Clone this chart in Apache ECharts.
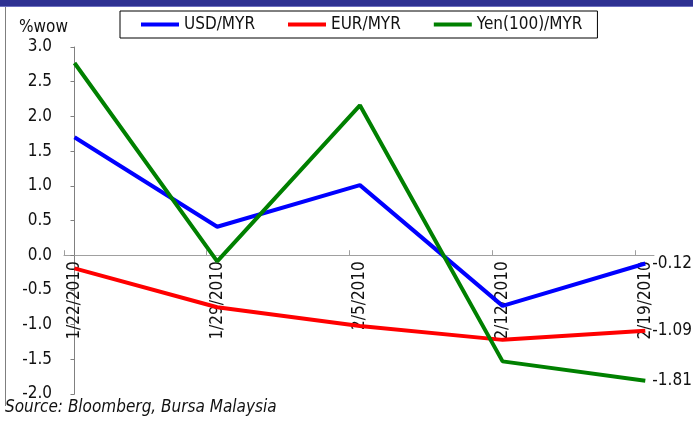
<!DOCTYPE html>
<html>
<head>
<meta charset="utf-8">
<script src="https://cdn.jsdelivr.net/npm/echarts@6/dist/echarts.min.js"></script>
<style>
  html, body { margin: 0; padding: 0; background: #fff; }
  #chart { width: 693px; height: 423px; }
</style>
</head>
<body>
<div id="chart"></div>
<script>
// Weekly change (%wow) of the ringgit against three currencies
const weeks = ['1/22/2010', '1/29/2010', '2/5/2010', '2/12/2010', '2/19/2010'];
const usdMyr = [1.70, 0.41, 1.01, -0.73, -0.12];
const eurMyr = [-0.19, -0.75, -1.02, -1.22, -1.09];
const yenMyr = [2.77, -0.09, 2.16, -1.53, -1.81];
const yTicks = [-2.0, -1.5, -1.0, -0.5, 0.0, 0.5, 1.0, 1.5, 2.0, 2.5, 3.0];

const FONT = '"DejaVu Sans Condensed", "DejaVu Sans", sans-serif';
const FS = 17;

// plot area
const GRID_TOP = 47;
const GRID_BOTTOM = 29;
const PLOT_H = 423 - GRID_TOP - GRID_BOTTOM;

// the date axis starts a little before the first week; ticks sit at that offset
const xStart = -0.0736;
const xEnd = 4.061;
const tickPos = weeks.map((_, i) => xStart + i);
const labelPos = weeks.map((_, i) => i);

// the category axis runs along the zero line of the value axis
const yMin = yTicks[0];
const yMax = yTicks[yTicks.length - 1];
const zeroLift = PLOT_H * (0 - yMin) / (yMax - yMin);

function pairs(values) {
  return values.map((v, i) => [i, v]);
}

function lineSeries(name, values, color) {
  return {
    name: name,
    type: 'line',
    data: pairs(values),
    symbol: 'none',
    lineStyle: { color: color, width: 4 },
    itemStyle: { color: color },
    endLabel: {
      show: true,
      distance: 7,
      formatter: p => p.value[1].toFixed(2),
      fontFamily: FONT,
      fontSize: FS,
      color: '#111'
    },
    animation: false
  };
}

const chart = echarts.init(document.getElementById('chart'), null, { renderer: 'canvas' });

chart.setOption({
  backgroundColor: '#ffffff',
  animation: false,
  textStyle: { fontFamily: FONT },
  grid: { left: 64, right: 39, top: GRID_TOP, bottom: GRID_BOTTOM, containLabel: false, outerBoundsMode: 'none' },
  legend: {
    left: 120,
    top: 11,
    padding: [5, 15, 5, 21],
    itemGap: 33,
    itemWidth: 38,
    itemHeight: 4,
    icon: 'rect',
    borderColor: '#000',
    borderWidth: 1,
    textStyle: { fontFamily: FONT, fontSize: FS, color: '#111' },
    data: ['USD/MYR', 'EUR/MYR', 'Yen(100)/MYR']
  },
  xAxis: {
    type: 'value',
    min: xStart,
    max: xEnd,
    position: 'bottom',
    offset: -zeroLift,
    axisLine: { show: true, onZero: false, lineStyle: { color: '#a0a0a0', width: 1 } },
    axisTick: { show: true, inside: true, length: 5, customValues: tickPos, lineStyle: { color: '#a0a0a0' } },
    splitLine: { show: false },
    axisLabel: {
      customValues: labelPos,
      rotate: 90,
      margin: 6,
      fontFamily: FONT,
      fontSize: FS,
      color: '#111',
      formatter: v => weeks[Math.round(v)] || ''
    }
  },
  yAxis: {
    type: 'value',
    min: yMin,
    max: yMax,
    interval: 0.5,
    axisLine: { show: true, lineStyle: { color: '#808080', width: 1 } },
    axisTick: { show: true, length: 4, lineStyle: { color: '#808080' } },
    splitLine: { show: false },
    axisLabel: {
      margin: 12,
      fontFamily: FONT,
      fontSize: FS,
      color: '#111',
      formatter: v => v.toFixed(1)
    }
  },
  graphic: [
    { type: 'rect', shape: { x: 0, y: 0, width: 693, height: 7 }, style: { fill: '#2e3192' }, silent: true },
    { type: 'rect', shape: { x: 0, y: 6, width: 693, height: 1 }, style: { fill: '#6d70c0' }, silent: true },
    { type: 'line', shape: { x1: 5.5, y1: 7, x2: 5.5, y2: 406 }, style: { stroke: '#7f7f7f', lineWidth: 1 }, silent: true },
    { type: 'text', x: 19, y: 28, style: { text: '%wow', fontFamily: FONT, fontSize: FS, fill: '#111', verticalAlign: 'middle' }, silent: true },
    { type: 'text', x: 5, y: 408, style: { text: 'Source: Bloomberg, Bursa Malaysia', fontFamily: FONT, fontSize: FS, fontStyle: 'italic', fill: '#111', verticalAlign: 'middle' }, silent: true }
  ],
  series: [
    lineSeries('USD/MYR', usdMyr, '#0000ff'),
    lineSeries('EUR/MYR', eurMyr, '#ff0000'),
    lineSeries('Yen(100)/MYR', yenMyr, '#008000')
  ]
});
</script>
</body>
</html>
